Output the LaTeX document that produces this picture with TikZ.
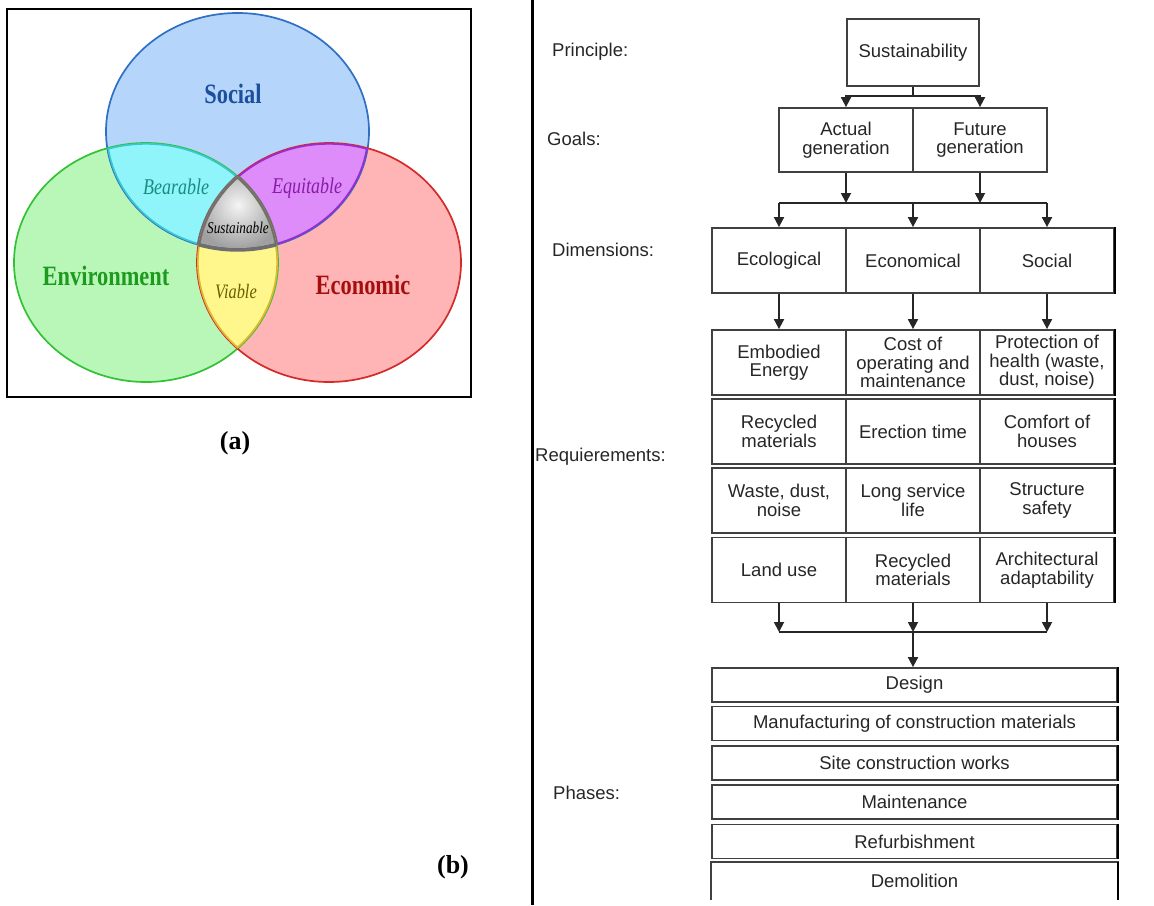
\documentclass[tikz,border=0pt]{standalone}
\usepackage{fontspec}
\setmainfont{Liberation Serif}
\newfontfamily\vennfont[FakeStretch=0.8]{Liberation Serif}
\newfontfamily\flowfont{Liberation Sans}
\usetikzlibrary{arrows.meta,positioning}

\definecolor{socfill}{HTML}{B5D6FA}
\definecolor{socline}{HTML}{2F6FC6}
\definecolor{envfill}{HTML}{B9F7B9}
\definecolor{envline}{HTML}{35C135}
\definecolor{ecofill}{HTML}{FFB5B5}
\definecolor{ecoline}{HTML}{D42A2A}
\definecolor{bearfill}{HTML}{8FF5FA}
\definecolor{bearline}{HTML}{38C8D0}
\definecolor{equifill}{HTML}{DD8CFA}
\definecolor{equiline}{HTML}{9C2BD0}
\definecolor{viafill}{HTML}{FFF78C}
\definecolor{vialine}{HTML}{E0B830}
\definecolor{sustlight}{HTML}{F4F4F4}
\definecolor{sustdark}{HTML}{A0A0A0}
\definecolor{sustline}{HTML}{6E6E6E}
\definecolor{soctext}{HTML}{1C4F9C}
\definecolor{envtext}{HTML}{1E9B1E}
\definecolor{ecotext}{HTML}{A50E0E}
\definecolor{beartext}{HTML}{188C80}
\definecolor{equitext}{HTML}{8A1AA8}
\definecolor{viatext}{HTML}{6A5F00}

\tikzset{
  cell/.style={draw=black!75, line width=1.8pt, text=black!85, align=center,
    inner sep=0pt, minimum width=134, minimum height=65,
    font=\flowfont\fontsize{18.5}{18.5}\selectfont},
  phase/.style={cell, minimum width=405, minimum height=34},
  lbl/.style={anchor=west, inner sep=0pt, text=black!85,
    font=\flowfont\fontsize{18.5}{18.5}\selectfont},
  link/.style={draw=black!85, line width=1.8pt},
  arr/.style={link, -{Triangle[length=10pt,width=10pt]}},
  vbig/.style={anchor=base, inner sep=0pt, font=\vennfont\bfseries\fontsize{28}{30}\selectfont},
  vsmall/.style={anchor=base, inner sep=0pt, font=\vennfont\itshape\fontsize{22.5}{24}\selectfont},
  panel/.style={inner sep=0pt, font=\bfseries\fontsize{26}{28}\selectfont}
}

\begin{document}
\begin{tikzpicture}[x=1pt,y=-1pt]
\useasboundingbox (0,0) rectangle (1154,905);

% (a) Venn diagram
\def\socE{(237.5,131.5) ellipse [x radius=131.5, y radius=118.5]}
\def\envE{(146,262.5) ellipse [x radius=132, y radius=119.5]}
\def\ecoE{(329,262.5) ellipse [x radius=132, y radius=119.5]}

\fill[socfill] \socE;
\fill[envfill] \envE;
\fill[ecofill] \ecoE;
\begin{scope}
  \clip \socE;
  \fill[bearfill] \envE;
\end{scope}
\begin{scope}
  \clip \socE;
  \fill[equifill] \ecoE;
\end{scope}
\begin{scope}
  \clip \envE;
  \fill[viafill] \ecoE;
\end{scope}
\begin{scope}
  \clip \socE; \clip \envE; \clip \ecoE;
  \fill[sustdark] (0,0) rectangle (480,400);
  \shade[inner color=sustlight, outer color=sustdark] (238,205) circle (44);
\end{scope}

\draw[socline, line width=1.7pt] \socE;
\draw[envline, line width=1.7pt] \envE;
\draw[ecoline, line width=1.7pt] \ecoE;
\begin{scope}
  \clip \socE; \clip \envE;
  \draw[bearline, line width=3.4pt] \socE \envE;
  \draw[sustline, line width=3.4pt] \ecoE;
\end{scope}
\begin{scope}
  \clip \socE; \clip \ecoE;
  \draw[equiline, line width=3.4pt] \socE \ecoE;
  \draw[sustline, line width=3.4pt] \envE;
\end{scope}
\begin{scope}
  \clip \envE; \clip \ecoE;
  \draw[vialine, line width=3.4pt] \envE \ecoE;
  \draw[sustline, line width=3.4pt] \socE;
\end{scope}
\begin{scope}
  \clip \socE; \clip \envE; \clip \ecoE;
  \draw[sustline, line width=3.4pt] \socE \envE \ecoE;
\end{scope}

\draw[line width=2.2pt] (7,9) rectangle (471,397);

\node[vbig, text=soctext] (tsoc) at (233,103) {Social};
\node[vbig, text=envtext] (tenv) at (106,285) {Environment};
\node[vbig, text=ecotext] (teco) at (363,294) {Economic};
\node[vsmall, text=beartext] (tbear) at (176,194) {Bearable};
\node[vsmall, text=equitext] (tequi) at (307,193) {Equitable};
\node[vsmall, text=viatext, font=\vennfont\itshape\fontsize{20.5}{22}\selectfont] (tvia) at (236,298) {Viable};
\node[vsmall, text=black, font=\vennfont\itshape\fontsize{16.5}{18}\selectfont] (tsust) at (238,233) {Sustainable};

\node[panel] (pa) at (235,443) {(a)};
\node[panel] (pb) at (453,867) {(b)};

\draw[line width=3pt] (532,0) -- (532,905);

% (b) flow chart
\node[lbl] (lprin) at (552,52) {Principle:};
\node[lbl] (lgoal) at (547,139) {Goals:};
\node[lbl] (ldim) at (552,250) {Dimensions:};
\node[lbl] (lreq) at (535,457) {Requierements:};
\node[lbl] (lphase) at (553,793) {Phases:};

\node[cell, minimum width=132, minimum height=67] (sust) at (913,52.5) {Sustainability};
\node[cell, minimum height=64] (act) at (846,140) {Actual\\generation};
\node[cell, minimum height=64] (fut) at (980,140) {Future\\generation};

\node[cell] (ecol) at (779,260.5) {Ecological};
\node[cell] (econ) at (913,260.5) {Economical};
\node[cell] (soc) at (1047,260.5) {Social};

\node[cell] (r11) at (779,362.5) {Embodied\\Energy};
\node[cell] (r12) at (913,362.5) {Cost of\\operating and\\maintenance};
\node[cell] (r13) at (1047,362.5) {Protection of\\health (waste,\\dust, noise)};
\node[cell] (r21) at (779,431.5) {Recycled\\materials};
\node[cell] (r22) at (913,431.5) {Erection time};
\node[cell] (r23) at (1047,431.5) {Comfort of\\houses};
\node[cell] (r31) at (779,500.5) {Waste, dust,\\noise};
\node[cell] (r32) at (913,500.5) {Long service\\life};
\node[cell] (r33) at (1047,500.5) {Structure\\safety};
\node[cell] (r41) at (779,570) {Land use};
\node[cell] (r42) at (913,570) {Recycled\\materials};
\node[cell] (r43) at (1047,570) {Architectural\\adaptability};

\node[phase] (design) at (914.5,685) {Design};
\node[phase] (manuf) at (914.5,723.5) {Manufacturing of construction materials};
\node[phase] (site) at (914.5,763) {Site construction works};
\node[phase] (maint) at (914.5,802) {Maintenance};
\node[phase] (refurb) at (914.5,841.5) {Refurbishment};
\node[phase, draw=none, minimum height=36] (demol) at (914.5,881) {Demolition};
\draw[draw=black!75, line width=1.8pt] (demol.south west) -- (demol.north west)
  -- (demol.north east) -- (demol.south east);

\foreach \n in {soc,r13,r23,r33,r43,design,manuf,site,maint,refurb,demol}
  \draw[line width=2.8pt] (\n.north east) -- (\n.south east);

% connectors
\coordinate (sj) at (913,96);
\draw[link] (sust.south) -- (sj);
\draw[arr] (sj) -| (act.north);
\draw[arr] (sj) -| (fut.north);

\coordinate (gbar) at (913,203);
\draw[arr] (act.south) -- (act.south |- gbar);
\draw[arr] (fut.south) -- (fut.south |- gbar);
\draw[link] (ecol.north |- gbar) -- (soc.north |- gbar);
\foreach \n in {ecol,econ,soc}
  \draw[arr] (\n.north |- gbar) -- (\n.north);

\draw[arr] (ecol.south) -- (r11.north);
\draw[arr] (econ.south) -- (r12.north);
\draw[arr] (soc.south) -- (r13.north);

\coordinate (rbar) at (913,632);
\foreach \n in {r41,r42,r43}
  \draw[arr] (\n.south) -- (\n.south |- rbar);
\draw[link] (r41.south |- rbar) -- (r43.south |- rbar);
\draw[arr] (rbar) -- (rbar |- design.north);

\end{tikzpicture}
\end{document}
